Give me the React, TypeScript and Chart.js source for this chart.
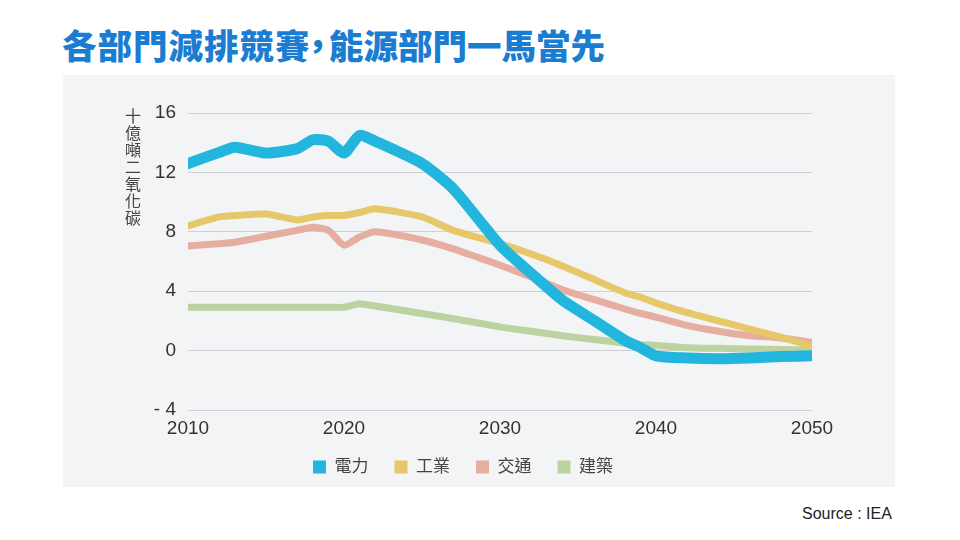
import React, { useEffect, useRef } from "react";
import { Chart, registerables } from "chart.js";

Chart.register(...registerables);

const years = [2010, 2012, 2013, 2015, 2017, 2018, 2019, 2020, 2021, 2022, 2025, 2027, 2030, 2032, 2034, 2036, 2038, 2039, 2040, 2042, 2044, 2046, 2048, 2050];
const power = [12.6, 13.35, 13.7, 13.3, 13.6, 14.2, 14.1, 13.3, 14.5, 14.1, 12.6, 10.9, 7.1, 5.2, 3.4, 2.05, 0.7, 0.2, -0.35, -0.5, -0.55, -0.5, -0.4, -0.35];
const industry = [8.4, 9.0, 9.1, 9.2, 8.8, 9.0, 9.1, 9.1, 9.3, 9.55, 9.0, 8.1, 7.2, 6.5, 5.7, 4.8, 3.9, 3.6, 3.2, 2.55, 2.0, 1.45, 0.9, 0.3];
const transport = [7.05, 7.2, 7.3, 7.7, 8.1, 8.3, 8.1, 7.1, 7.65, 8.0, 7.45, 6.85, 5.75, 4.95, 4.1, 3.45, 2.8, 2.5, 2.25, 1.7, 1.3, 1.0, 0.85, 0.55];
const buildings = [2.92, 2.92, 2.92, 2.92, 2.92, 2.92, 2.92, 2.92, 3.15, 3.0, 2.5, 2.15, 1.6, 1.3, 1.0, 0.75, 0.5, 0.4, 0.35, 0.2, 0.15, 0.1, 0.08, 0.05];

const seriesNames = ["電力", "工業", "交通", "建築"];
const seriesColors = ["#22b5dd", "#e6c86a", "#e5aea0", "#bcd2a0"];
const seriesWidths = [11, 7, 7, 7];
const xTicks = [2010, 2020, 2030, 2040, 2050];
const yTicks = [-4, 0, 4, 8, 12, 16];

const TITLE = "各部門減排競賽";
const TITLE2 = "能源部門一馬當先";
const Y_TITLE = "十億噸二氧化碳";
const SOURCE = "Source : IEA";

const legendShift = {
  id: "legendShift",
  afterLayout(chart: any) {
    const l = chart.legend;
    if (l) {
      l.top -= 7.5;
      l.bottom -= 7.5;
    }
  },
};

export default function App() {
  const ref = useRef<HTMLCanvasElement | null>(null);

  useEffect(() => {
    if (!ref.current) return;
    Chart.defaults.font.family = "'Liberation Sans', 'Noto Sans CJK TC', sans-serif";
    const allSeries = [power, industry, transport, buildings];
    const chart = new Chart(ref.current, {
      type: "line",
      data: {
        datasets: allSeries.map((vals, i) => ({
          label: seriesNames[i],
          data: years.map((yr, j) => ({ x: yr, y: vals[j] })),
          borderColor: seriesColors[i],
          backgroundColor: seriesColors[i],
          borderWidth: seriesWidths[i],
          pointRadius: 0,
          tension: 0.2,
          borderCapStyle: "round",
          borderJoinStyle: "round",
          fill: false,
        })),
      },
      options: {
        animation: false,
        responsive: false,
        layout: { padding: { left: 51, right: 83, top: 38, bottom: -6 } },
        scales: {
          x: {
            type: "linear",
            min: xTicks[0],
            max: xTicks[xTicks.length - 1],
            grid: { display: false, drawTicks: false },
            border: { display: false },
            afterBuildTicks: (s: any) => {
              s.ticks = xTicks.map((v) => ({ value: v }));
            },
            ticks: {
              callback: (v: any) => String(v),
              font: { size: 19 },
              color: "#333",
              padding: 7,
              maxRotation: 0,
            },
            afterFit: (s: any) => {
              s.height = 30;
            },
          },
          y: {
            min: yTicks[0],
            max: yTicks[yTicks.length - 1],
            grid: { color: "#cfd0d3", drawTicks: false, lineWidth: 1 },
            border: { display: false },
            afterBuildTicks: (s: any) => {
              s.ticks = yTicks.map((v) => ({ value: v }));
            },
            ticks: {
              padding: 12,
              font: { size: 19 },
              color: "#333",
              callback: (v: any) => (v < 0 ? "- " + Math.abs(v) : String(v)),
            },
            afterFit: (s: any) => {
              s.width = 74;
            },
          },
        },
        plugins: {
          legend: {
            position: "bottom",
            labels: {
              boxWidth: 13,
              boxHeight: 13,
              padding: 26,
              font: { size: 17 },
              color: "#444",
              generateLabels: (c: any) =>
                (Chart.defaults.plugins.legend.labels as any)
                  .generateLabels(c)
                  .map((l: any) => ({ ...l, lineWidth: 0, strokeStyle: "rgba(0,0,0,0)" })),
            },
          },
          tooltip: { enabled: false },
        },
      } as any,
      plugins: [legendShift],
    });
    return () => chart.destroy();
  }, []);

  return (
    <div
      style={{
        position: "absolute",
        left: 0,
        top: 0,
        width: 960,
        height: 540,
        background: "#ffffff",
        overflow: "hidden",
        fontFamily: "'Liberation Sans', 'Noto Sans CJK TC', sans-serif",
      }}
    >
      <div
        style={{
          position: "absolute",
          left: 62,
          top: 24,
          fontFamily: "'Noto Sans CJK TC', sans-serif",
          fontWeight: 900,
          fontSize: 34.5,
          lineHeight: "40px",
          color: "#1a7dd1",
          whiteSpace: "nowrap",
        }}
      >
        <span style={{ letterSpacing: "1px" }}>{TITLE}</span>
        <span style={{ marginLeft: -10, marginRight: -6 }}>，</span>
        {TITLE2}
      </div>
      <div
        style={{
          position: "absolute",
          left: 63,
          top: 75,
          width: 832,
          height: 412,
          background: "#f3f4f6",
        }}
      >
        <canvas ref={ref} width={832} height={412} style={{ display: "block" }} />
      </div>
      <div
        style={{
          position: "absolute",
          left: 125,
          top: 108,
          writingMode: "vertical-rl",
          fontFamily: "'Noto Sans CJK TC', sans-serif",
          fontSize: 16,
          lineHeight: "16px",
          letterSpacing: "1px",
          color: "#444",
        }}
      >
        {Y_TITLE}
      </div>
      <div
        style={{
          position: "absolute",
          left: 802,
          top: 505,
          fontSize: 16,
          color: "#222",
          whiteSpace: "nowrap",
        }}
      >
        {SOURCE}
      </div>
    </div>
  );
}
